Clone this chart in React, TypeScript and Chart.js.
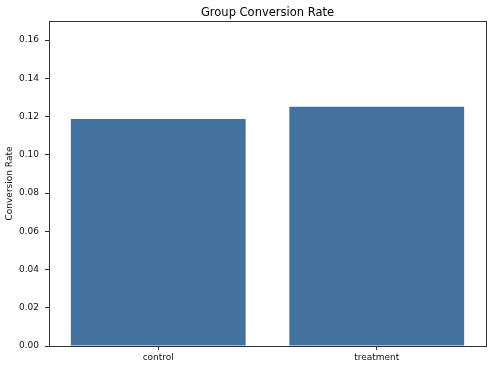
import React, { useEffect, useRef } from "react";
import { Chart, registerables } from "chart.js";

Chart.register(...registerables);

const groups = ["control", "treatment"];
const conversionRates = [0.1188, 0.1251];
const yTicks = [0, 0.02, 0.04, 0.06, 0.08, 0.1, 0.12, 0.14, 0.16];
const yMax = 0.17;
const titleText = "Group Conversion Rate";
const yLabel = "Conversion Rate";

const FONT = "'DejaVu Sans', sans-serif";

export default function App() {
  const ref = useRef<HTMLCanvasElement>(null);

  useEffect(() => {
    if (!ref.current) return;
    const frame = {
      id: "frame",
      afterDraw(chart: any) {
        const { ctx, chartArea: a } = chart;
        ctx.save();
        ctx.strokeStyle = "#333";
        ctx.lineWidth = 1;
        ctx.strokeRect(Math.round(a.left) + 0.5, Math.round(a.top) + 0.5, Math.round(a.right - a.left), Math.round(a.bottom - a.top));
        ctx.fillStyle = "#000";
        ctx.font = `11.5px ${FONT}`;
        ctx.textAlign = "center";
        ctx.textBaseline = "alphabetic";
        ctx.fillText(titleText, (a.left + a.right) / 2, 15.5);
        ctx.restore();
      },
    };
    const chart = new Chart(ref.current, {
      type: "bar",
      data: {
        labels: groups,
        datasets: [
          {
            data: conversionRates,
            backgroundColor: "rgb(67,114,158)",
            borderWidth: 0,
            categoryPercentage: 1,
            barPercentage: 0.8,
          },
        ],
      },
      options: {
        responsive: false,
        animation: false,
        layout: { padding: { left: 0, right: 14, top: 21, bottom: 0 } },
        plugins: {
          legend: { display: false },
          tooltip: { enabled: false },
          title: { display: false },
        },
        scales: {
          x: {
            offset: true,
            grid: { display: true, offset: false, drawOnChartArea: false, drawTicks: true, tickLength: 4, color: "#333" },
            border: { display: true, color: "#333" },
            ticks: { color: "#111", font: { family: FONT, size: 9 }, padding: 2 },
            afterFit(scale: any) {
              scale.height = 23;
            },
          },
          y: {
            min: 0,
            max: yMax,
            grid: { display: true, drawOnChartArea: false, drawTicks: true, tickLength: 4, color: "#333" },
            border: { display: true, color: "#333" },
            ticks: {
              color: "#111",
              font: { family: FONT, size: 9 },
              padding: 6,
              callback: (v: any) => Number(v).toFixed(2),
            },
            afterBuildTicks(scale: any) {
              scale.ticks = yTicks.map((v) => ({ value: v }));
            },
            afterFit(scale: any) {
              scale.width = 49;
            },
            title: {
              display: true,
              text: yLabel,
              color: "#111",
              font: { family: FONT, size: 9, lineHeight: 1.2 },
              padding: { top: 4, bottom: 0 },
            },
          },
        },
      },
      plugins: [frame],
    });
    return () => chart.destroy();
  }, []);

  return (
    <div style={{ position: "fixed", left: 0, top: 0, width: 500, height: 369, background: "#fff" }}>
      <canvas ref={ref} width={500} height={369} />
    </div>
  );
}
